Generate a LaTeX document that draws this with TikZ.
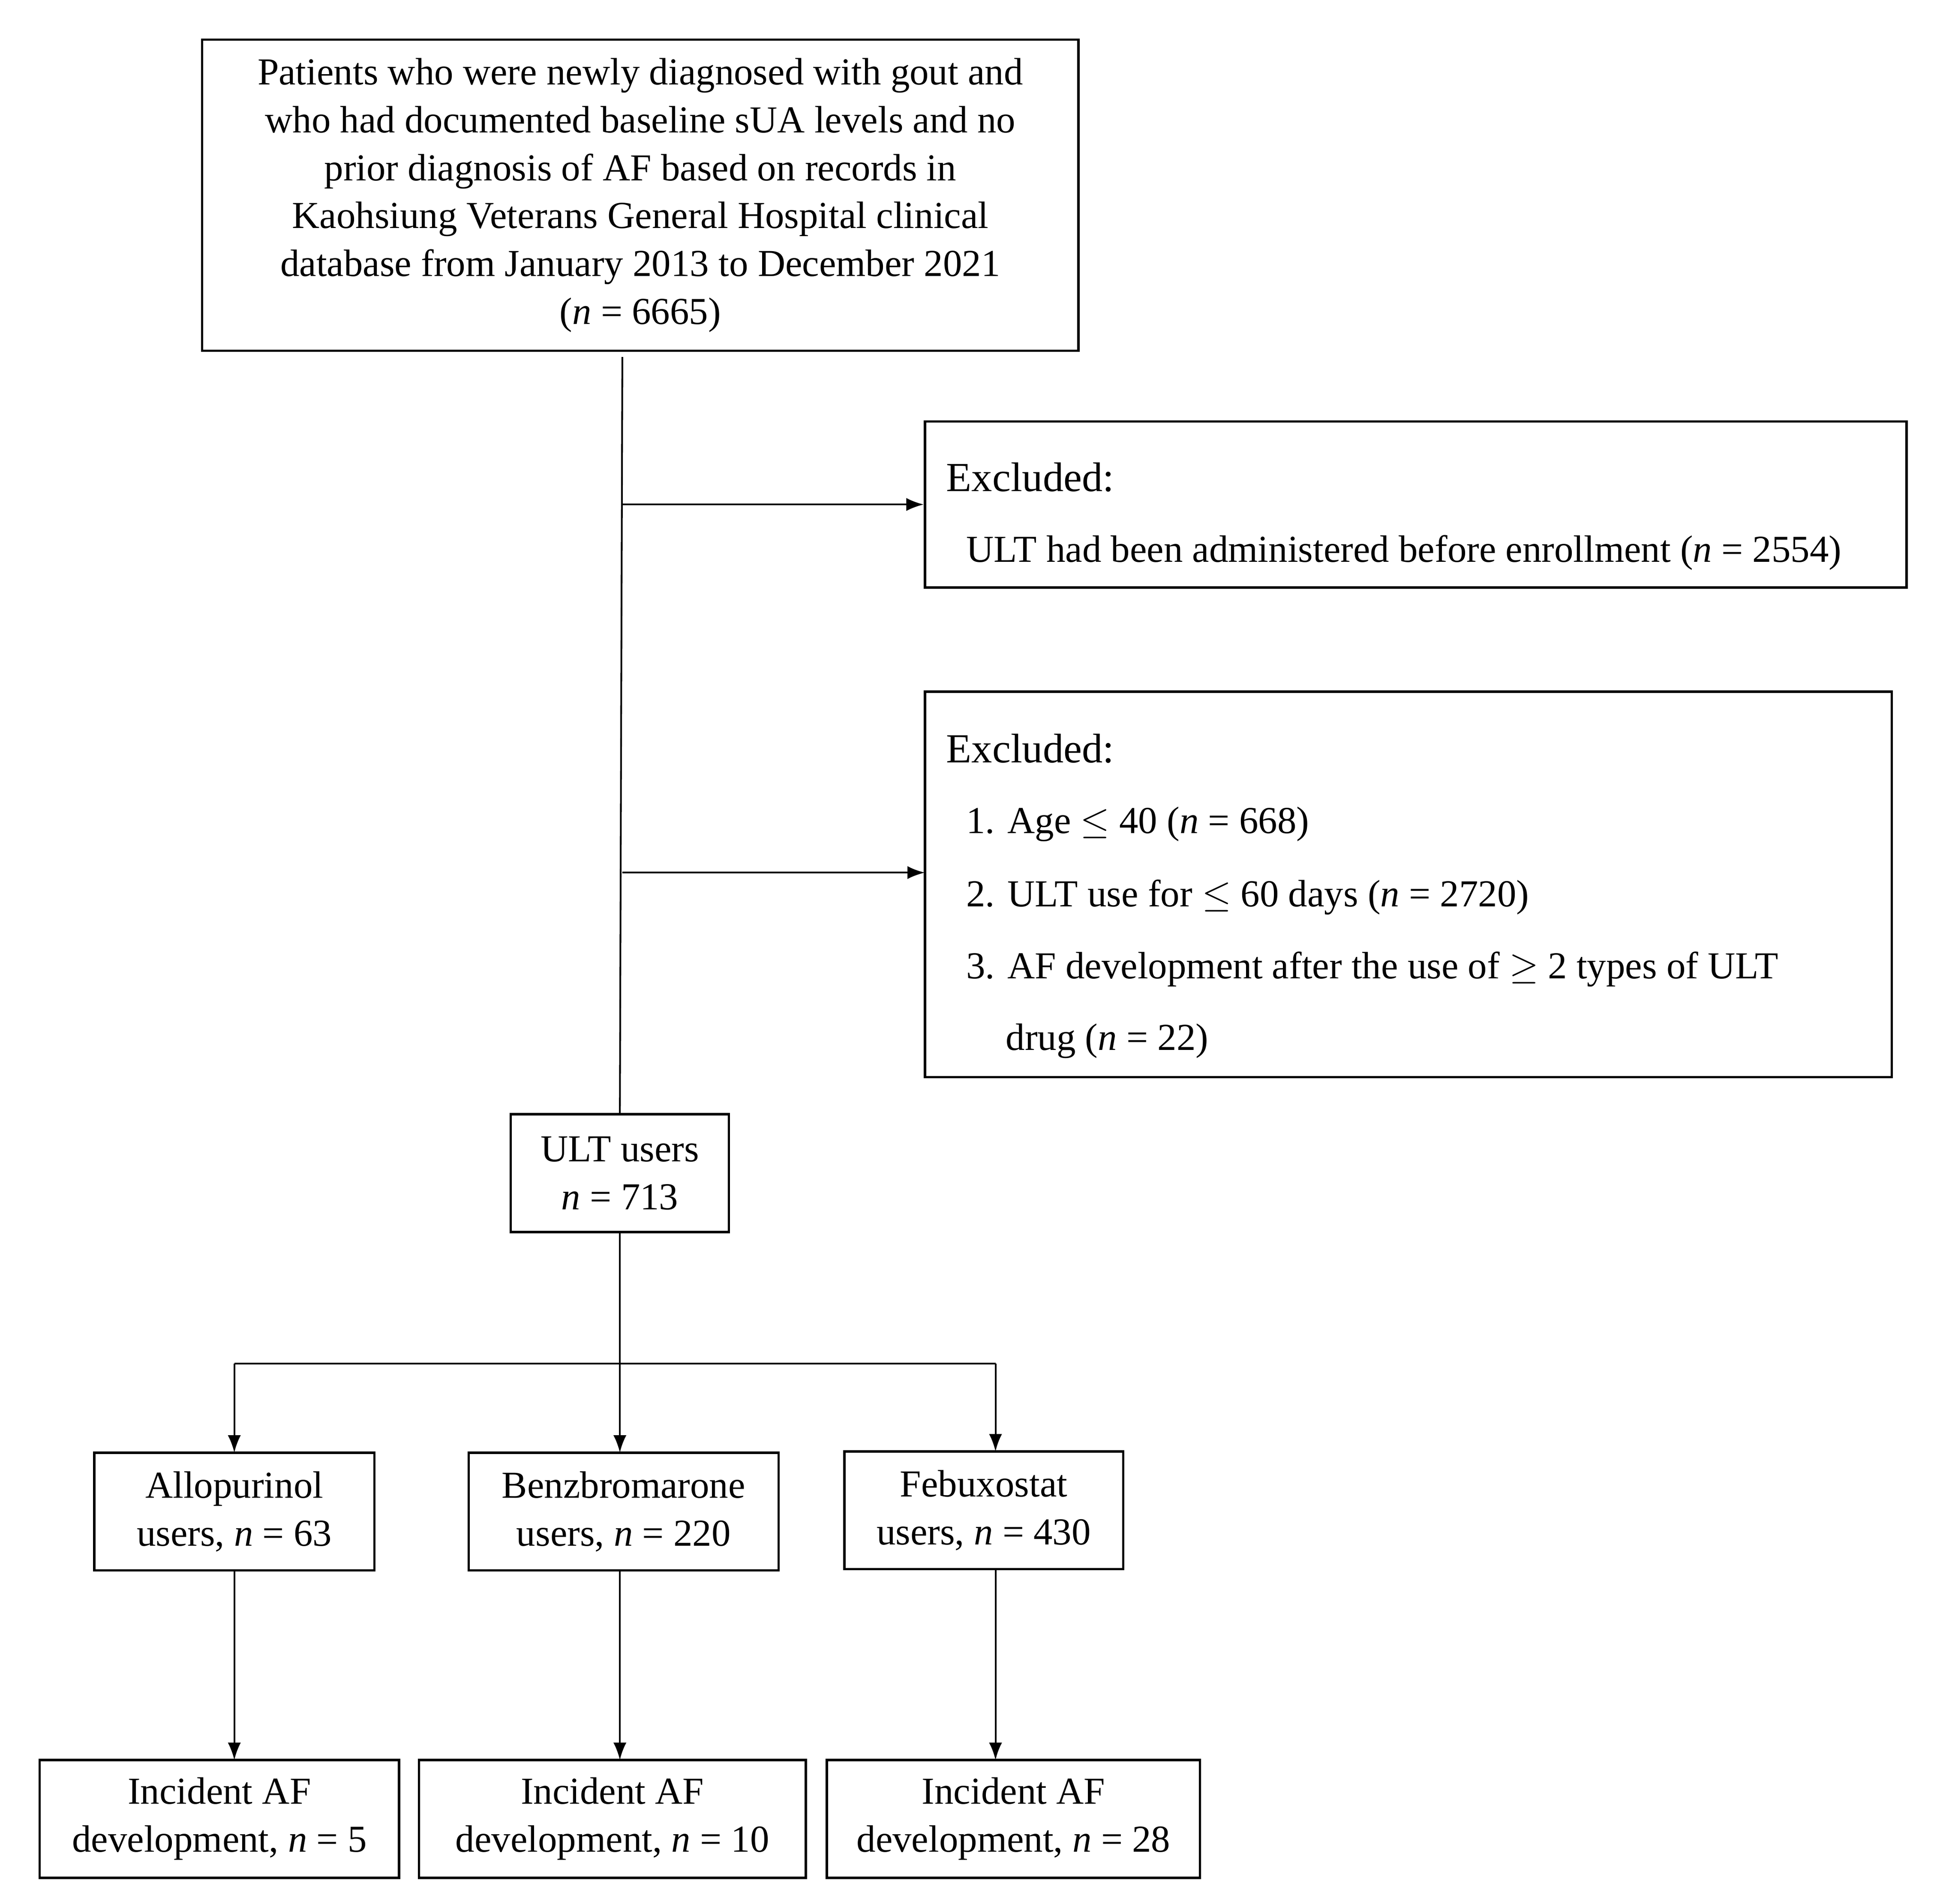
\documentclass[tikz,border=0pt]{standalone}
\usepackage{fontspec}
\setmainfont{Liberation Serif}
\usetikzlibrary{arrows.meta}
\begin{document}
\begin{tikzpicture}[x=0.02cm,y=-0.02cm,
  box/.style={draw,line width=1.1pt,inner sep=0pt},
  txt/.style={align=center,font=\fontsize{17.5}{22}\selectfont,inner sep=0pt},
  ltxt/.style={anchor=west,font=\fontsize{17.5}{22}\selectfont,inner sep=0pt},
  arr/.style={-{Latex[length=8pt,width=6pt]},line width=0.8pt},
  ln/.style={line width=0.8pt}]
\useasboundingbox (0,0) rectangle (1560,1536);
\node[box,minimum width=14.14cm,minimum height=5.02cm] (top) at (516.5,157.5) {};
\node[txt] at (516.5,157.5) {Patients who were newly diagnosed with gout and\\who had documented baseline sUA levels and no\\prior diagnosis of AF based on records in\\Kaohsiung Veterans General Hospital clinical\\database from January 2013 to December 2021\\(\textit{n} = 6665)};
\node[box,minimum width=15.84cm,minimum height=2.68cm] (ex1) at (1142,407) {};
\node[ltxt,font=\fontsize{19}{22}\selectfont] at (763,385) {Excluded:};
\node[ltxt] at (779,446) {ULT had been administered before enrollment (\textit{n} = 2554)};
\node[box,minimum width=15.6cm,minimum height=6.22cm] (ex2) at (1136,713.5) {};
\node[ltxt,font=\fontsize{19}{22}\selectfont] at (763,604) {Excluded:};
\node[ltxt] at (779,665) {1. Age $\leq$ 40 (\textit{n} = 668)};
\node[ltxt] at (779,724) {2. ULT use for $\leq$ 60 days (\textit{n} = 2720)};
\node[ltxt] at (779,782) {3. AF development after the use of $\geq$ 2 types of ULT};
\node[ltxt] at (811,840) {drug (\textit{n} = 22)};
\node[box,txt,minimum width=3.52cm,minimum height=1.9cm] (ult) at (500,946.5) {ULT users\\\textit{n} = 713};
\node[box,txt,minimum width=4.52cm,minimum height=1.9cm] (allo) at (189,1219.5) {Allopurinol\\users, \textit{n} = 63};
\node[box,txt,minimum width=5.0cm,minimum height=1.9cm] (benz) at (503,1219.5) {Benzbromarone\\users, \textit{n} = 220};
\node[box,txt,minimum width=4.5cm,minimum height=1.9cm] (febu) at (793.5,1218.5) {Febuxostat\\users, \textit{n} = 430};
\node[box,txt,minimum width=5.8cm,minimum height=1.9cm] (i1) at (177,1467.5) {Incident AF\\development, \textit{n} = 5};
\node[box,txt,minimum width=6.24cm,minimum height=1.9cm] (i2) at (494,1467.5) {Incident AF\\development, \textit{n} = 10};
\node[box,txt,minimum width=6.02cm,minimum height=1.9cm] (i3) at (817.5,1467.5) {Incident AF\\development, \textit{n} = 28};
\coordinate (t0) at (502,288);
\coordinate (b1) at (502,407);
\coordinate (b2) at (502,704);
\coordinate (e2) at (746,704);
\draw[ln] (t0) -- (ult.north);
\draw[arr] (b1) -- (ex1.west);
\draw[arr] (b2) -- (e2);
\coordinate (h) at (500,1100);
\draw[ln] (ult.south) -- (h);
\draw[ln] (h) -- (189,1100) coordinate (hl);
\draw[ln] (h) -- (803,1100) coordinate (hr);
\draw[arr] (hl) -- (189,1172);
\draw[arr] (h) -- (500,1172);
\draw[arr] (hr) -- (803,1171);
\draw[arr] (189,1267) -- (189,1420);
\draw[arr] (500,1267) -- (500,1420);
\draw[arr] (803,1266) -- (803,1420);
\end{tikzpicture}
\end{document}
